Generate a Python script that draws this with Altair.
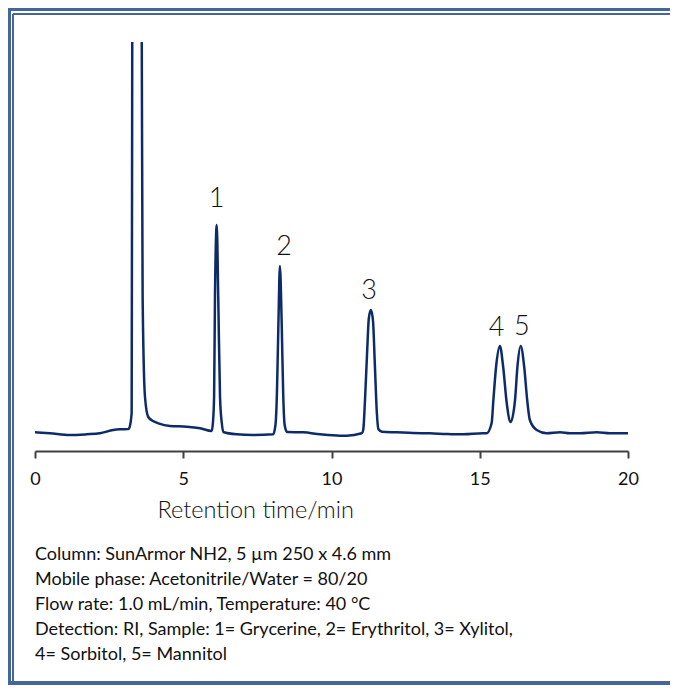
import altair as alt
import pandas as pd

# Chromatogram trace (retention time in min, detector signal in arbitrary units)
time_min = [0.00, 0.50, 1.18, 1.74, 2.19, 2.64, 2.87, 3.15, 3.18, 3.26, 3.28,
            3.43,
            3.60, 3.63, 3.71, 3.82, 3.98, 4.16, 4.55, 5.12, 5.57, 5.96,
            6.00, 6.04, 6.07, 6.13, 6.18, 6.24, 6.30, 6.35,
            6.80, 7.35, 8.03,
            8.11, 8.16, 8.21, 8.26, 8.32, 8.37, 8.42, 8.50,
            9.04, 9.61, 10.29, 10.51, 11.02,
            11.07, 11.13, 11.20, 11.26, 11.33, 11.40, 11.46, 11.53, 11.58, 11.70,
            12.20, 12.75, 13.32, 13.90, 14.44, 15.11, 15.23,
            15.40, 15.46, 15.55, 15.68, 15.79, 15.91, 16.04,
            16.19, 16.27, 16.38, 16.50, 16.60, 16.69, 16.92,
            17.26, 17.71, 18.04, 18.38, 18.95, 19.39, 20.00]
signal = [0.7, -0.3, -2.0, -1.3, -0.3, 3.0, 3.7, 4.0, 5.0, 20.0, 400.0,
          2000.0,
          400.0, 136.0, 36.0, 16.0, 12.0, 9.7, 7.0, 6.3, 4.7, 2.0,
          10.0, 36.0, 136.0, 208.0, 136.0, 36.0, 10.0, 1.0,
          -1.3, -2.0, -1.3,
          8.0, 40.0, 110.0, 167.0, 110.0, 40.0, 8.0, 1.0,
          0.7, -1.3, -2.7, -2.7, -0.3,
          3.0, 33.0, 80.0, 115.0, 123.0, 112.0, 70.0, 20.0, 4.0, 1.3,
          0.7, 0.0, -0.3, -1.0, -1.3, -0.3, -0.3,
          9.7, 33.0, 66.0, 87.0, 66.0, 30.0, 11.0,
          33.0, 66.0, 87.0, 66.0, 33.0, 13.0, 3.0,
          -0.3, 0.7, -0.3, -0.3, 0.7, -0.3, -0.3]

# Peak labels
peak_names = ["1", "2", "3", "4", "5"]
peak_label_time = [6.12, 8.40, 11.27, 15.57, 16.42]
peak_label_signal = [234, 186, 142, 105, 106]

x_ticks = [0, 5, 10, 15, 20]

info_lines = [
    "Column: SunArmor NH2, 5 µm 250 x 4.6 mm",
    "Mobile phase: Acetonitrile/Water = 80/20",
    "Flow rate: 1.0 mL/min, Temperature: 40 °C",
    "Detection: RI, Sample: 1= Grycerine, 2= Erythritol, 3= Xylitol,",
    "4= Sorbitol, 5= Mannitol",
]

trace = pd.DataFrame({"t": time_min, "s": signal})
labels = pd.DataFrame({"t": peak_label_time, "s": peak_label_signal, "name": peak_names})

LINE = "#0d2b6b"
FRAME = "#44679b"

xscale = alt.Scale(domain=[0, 20], nice=False, zero=False)
yscale = alt.Scale(domain=[-18, 391], nice=False, zero=False)

xaxis = alt.Axis(
    values=x_ticks, grid=False, domainColor="#404040", domainWidth=2,
    tickColor="#404040", tickWidth=2, tickSize=7,
    labelFont="Lato", labelFontSize=18, labelColor="#111111", labelPadding=12,
    labelFlush=False,
    title="Retention time/min", titleFont="Lato", titleFontSize=23.5,
    titleFontWeight=300, titleColor="#111111",
    titleX=122, titleY=66, titleAlign="left", titleAnchor="start",
    titleBaseline="alphabetic",
)

line = alt.Chart(trace).mark_line(
    color=LINE, strokeWidth=2.5, interpolate="monotone", clip=True
).encode(
    x=alt.X("t:Q", scale=xscale, axis=xaxis),
    y=alt.Y("s:Q", scale=yscale, axis=None),
)

text = alt.Chart(labels).mark_text(
    font="Lato", fontSize=27, fontWeight=300, color="#111111", baseline="middle"
).encode(
    x=alt.X("t:Q", scale=xscale),
    y=alt.Y("s:Q", scale=yscale),
    text="name:N",
)

# decorative frame (double blue border)
frame_parts = [
    alt.Chart(trace).mark_rule(color=FRAME, strokeWidth=3).encode(
        x=alt.value(-27), x2=alt.value(640), y=alt.value(-33)),
    alt.Chart(trace).mark_rule(color=FRAME, strokeWidth=2).encode(
        x=alt.value(-22), x2=alt.value(640), y=alt.value(-28)),
    alt.Chart(trace).mark_rule(color=FRAME, strokeWidth=3).encode(
        x=alt.value(-26), y=alt.value(-34), y2=alt.value(643)),
    alt.Chart(trace).mark_rule(color=FRAME, strokeWidth=2).encode(
        x=alt.value(-22), y=alt.value(-28), y2=alt.value(640)),
    alt.Chart(trace).mark_rule(color=FRAME, strokeWidth=3).encode(
        x=alt.value(-27), x2=alt.value(640), y=alt.value(641)),
]

chart = alt.layer(line, text, *frame_parts).properties(
    width=593,
    height=409,
    background="white",
    autosize=alt.AutoSizeParams(type="none"),
    padding={"left": 27, "top": 34, "right": 42, "bottom": 234},
    title=alt.TitleParams(
        text=info_lines, orient="bottom", anchor="start", frame="group",
        font="Lato", fontSize=18, fontWeight="normal", color="#111111",
        lineHeight=25, offset=-127, baseline="alphabetic",
    ),
).configure_view(strokeWidth=0, stroke="transparent")

chart.save("out.html", embed_options={"renderer": "svg", "actions": False})
